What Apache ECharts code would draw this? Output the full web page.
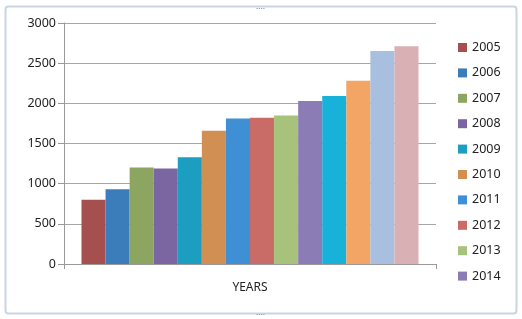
<!DOCTYPE html>
<html>
<head>
<meta charset="utf-8">
<script src="https://cdn.jsdelivr.net/npm/echarts@6/dist/echarts.min.js"></script>
<style>
html,body{margin:0;padding:0;background:#fff;}
#c{width:522px;height:319px;}
</style>
</head>
<body>
<div id="c"></div>
<script>
var categories = ['YEARS'];
var years = ['2005','2006','2007','2008','2009','2010','2011','2012','2013','2014','2015','2016','2017','2018'];
var values = [800, 930, 1200, 1190, 1330, 1660, 1810, 1820, 1850, 2030, 2090, 2280, 2650, 2710];
var colors = ['#A5504E','#3B7DBA','#8CA661','#7B66A2','#1C9EC0','#D18F53','#3F8FD4','#C96B67','#A7C27B','#8B7CB6','#17B1D9','#F2A564','#A8BFDF','#D9B1B5'];
var legendYears = years.slice(0, 10);
var yTicks = [0, 500, 1000, 1500, 2000, 2500, 3000];

var chart = echarts.init(document.getElementById('c'));
var series = years.map(function (y, i) {
  return {
    name: y,
    type: 'bar',
    data: [values[i]],
    itemStyle: { color: colors[i] },
    barGap: 0,
    barCategoryGap: '9.4%'
  };
});
chart.setOption({
  animation: false,
  backgroundColor: '#fff',
  color: colors,
  grid: { left: 64, right: 86, top: 23, bottom: 55 },
  legend: {
    data: legendYears,
    orient: 'vertical',
    left: 453,
    top: 36,
    itemWidth: 9,
    itemHeight: 9,
    itemGap: 12.4,
    icon: 'rect',
    textStyle: { fontFamily: 'Noto Sans', fontSize: 12.5, color: '#222' }
  },
  xAxis: {
    type: 'category',
    data: categories,
    axisLine: { lineStyle: { color: '#999', width: 1 } },
    axisTick: { show: true, length: 5, lineStyle: { color: '#999' } },
    axisLabel: { fontFamily: 'Noto Sans', fontSize: 12, color: '#222', margin: 18 }
  },
  yAxis: {
    type: 'value',
    min: yTicks[0],
    max: yTicks[yTicks.length - 1],
    interval: 500,
    axisLine: { show: true, lineStyle: { color: '#999' } },
    axisTick: { show: true, length: 6, lineStyle: { color: '#999' } },
    splitLine: { lineStyle: { color: '#a6a6a6', width: 1 } },
    axisLabel: { fontFamily: 'Noto Sans', fontSize: 12.5, color: '#222', margin: 8,
      formatter: function (v) { return String(v); } }
  },
  graphic: [
    { type: 'rect', shape: { x: 5.5, y: 6.5, width: 511, height: 307, r: 3 },
      style: { fill: 'none', stroke: '#c9d5e1', lineWidth: 2 }, silent: true, z: -1 },
    { type: 'text', left: 256, top: 3, style: { text: '....', fill: '#8a9aaa', font: 'bold 8px sans-serif' } },
    { type: 'text', left: 256, top: 309, style: { text: '....', fill: '#8a9aaa', font: 'bold 8px sans-serif' } }
  ],
  series: series
});
</script>
</body>
</html>
